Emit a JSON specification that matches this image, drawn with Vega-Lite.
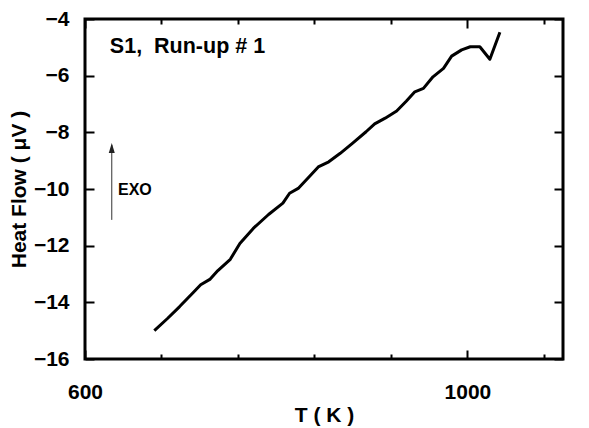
{
  "$schema": "https://vega.github.io/schema/vega-lite/v6.json",
  "width": 478,
  "height": 340,
  "autosize": {"type": "none"},
  "padding": {"left": 85, "top": 19, "right": 26, "bottom": 69},
  "background": "white",
  "config": {
    "view": {"stroke": "black", "strokeWidth": 3},
    "font": "Liberation Sans",
    "axis": {
      "domain": false,
      "ticks": false,
      "tickSize": 0,
      "grid": true,
      "gridColor": "black",
      "gridOpacity": 1,
      "gridWidth": 2,
      "gridCap": "butt",
      "labelFont": "Liberation Sans",
      "labelFontWeight": "bold",
      "labelFontSize": 21,
      "labelColor": "black",
      "labelFlush": false,
      "labelOverlap": false,
      "titleFont": "Liberation Sans",
      "titleFontWeight": "bold",
      "titleFontSize": 21,
      "titleColor": "black"
    }
  },
  "datasets": {
    "curve": [
      {"T": 672.5, "HF": -15.0},
      {"T": 686, "HF": -14.58},
      {"T": 699, "HF": -14.15},
      {"T": 713, "HF": -13.66},
      {"T": 721, "HF": -13.38},
      {"T": 731, "HF": -13.18},
      {"T": 739, "HF": -12.88},
      {"T": 752, "HF": -12.48},
      {"T": 762, "HF": -11.92},
      {"T": 776, "HF": -11.39},
      {"T": 792, "HF": -10.9},
      {"T": 807, "HF": -10.5},
      {"T": 814, "HF": -10.15},
      {"T": 823, "HF": -9.98},
      {"T": 835, "HF": -9.55},
      {"T": 844, "HF": -9.22},
      {"T": 855, "HF": -9.04},
      {"T": 867, "HF": -8.74},
      {"T": 880, "HF": -8.38},
      {"T": 894, "HF": -7.98},
      {"T": 903, "HF": -7.7},
      {"T": 914, "HF": -7.5},
      {"T": 926, "HF": -7.25},
      {"T": 936, "HF": -6.9},
      {"T": 945, "HF": -6.57},
      {"T": 954, "HF": -6.45},
      {"T": 964, "HF": -6.04},
      {"T": 975, "HF": -5.74},
      {"T": 983.5, "HF": -5.31},
      {"T": 994, "HF": -5.09},
      {"T": 1003, "HF": -4.98},
      {"T": 1013, "HF": -4.98},
      {"T": 1023.5, "HF": -5.42},
      {"T": 1034, "HF": -4.47}
    ],
    "label": [{"T": 626, "HF": -5.2, "text": "S1,\u00a0 Run-up # 1"}],
    "exo": [{"T": 634.5, "HF": -10.04, "text": "EXO"}],
    "arrow": [{"T": 628, "y1": -11.09, "y2": -8.45}],
    "head": [{"T": 628, "HF": -8.55}]
  },
  "layer": [
    {
      "data": {"name": "curve"},
      "mark": {"type": "line", "color": "black", "strokeWidth": 3, "strokeJoin": "round"},
      "encoding": {
        "x": {
          "field": "T", "type": "quantitative",
          "scale": {"domain": [600, 1100], "nice": false, "zero": false},
          "axis": {
            "orient": "bottom", "title": "T ( K )", "format": "d",
            "values": [600, 620, 640, 660, 680, 700, 720, 740, 760, 780, 800, 820, 840, 860, 880, 900, 920, 940, 960, 980, 1000, 1020, 1040, 1060, 1080, 1100],
            "labelExpr": "datum.value % 100 === 0 ? datum.label : ''",
            "gridDash": {"condition": {"test": "datum.value % 100 === 0", "value": [9, 322]}, "value": [5, 330]},
            "labelPadding": 22, "titlePadding": 2
          }
        },
        "y": {
          "field": "HF", "type": "quantitative",
          "scale": {"domain": [-16, -4], "nice": false, "zero": false},
          "axis": {
            "orient": "left", "title": "Heat Flow ( μV )",
            "values": [-16, -15.5, -15, -14.5, -14, -13.5, -13, -12.5, -12, -11.5, -11, -10.5, -10, -9.5, -9, -8.5, -8, -7.5, -7, -6.5, -6, -5.5, -5, -4.5, -4],
            "labelExpr": "datum.value % 2 === 0 ? datum.label : ''",
            "gridDash": {"condition": {"test": "datum.value % 2 === 0", "value": [9, 460]}, "value": [5, 468]},
            "labelPadding": 16, "titlePadding": 4
          }
        }
      }
    },
    {
      "data": {"name": "label"},
      "mark": {"type": "text", "align": "left", "baseline": "alphabetic", "font": "Liberation Sans", "fontWeight": "bold", "fontSize": 21.5, "color": "black"},
      "encoding": {
        "x": {"field": "T", "type": "quantitative"},
        "y": {"field": "HF", "type": "quantitative"},
        "text": {"field": "text"}
      }
    },
    {
      "data": {"name": "arrow"},
      "mark": {"type": "rule", "color": "#333333", "strokeWidth": 1},
      "encoding": {
        "x": {"field": "T", "type": "quantitative"},
        "y": {"field": "y1", "type": "quantitative"},
        "y2": {"field": "y2"}
      }
    },
    {
      "data": {"name": "head"},
      "mark": {"type": "point", "shape": "M0,-1L0.6,1L-0.6,1Z", "filled": true, "color": "#222222", "size": 100, "opacity": 1},
      "encoding": {
        "x": {"field": "T", "type": "quantitative"},
        "y": {"field": "HF", "type": "quantitative"}
      }
    },
    {
      "data": {"name": "exo"},
      "mark": {"type": "text", "align": "left", "baseline": "middle", "font": "Liberation Sans", "fontWeight": "bold", "fontSize": 16, "color": "black"},
      "encoding": {
        "x": {"field": "T", "type": "quantitative"},
        "y": {"field": "HF", "type": "quantitative"},
        "text": {"field": "text"}
      }
    }
  ]
}
